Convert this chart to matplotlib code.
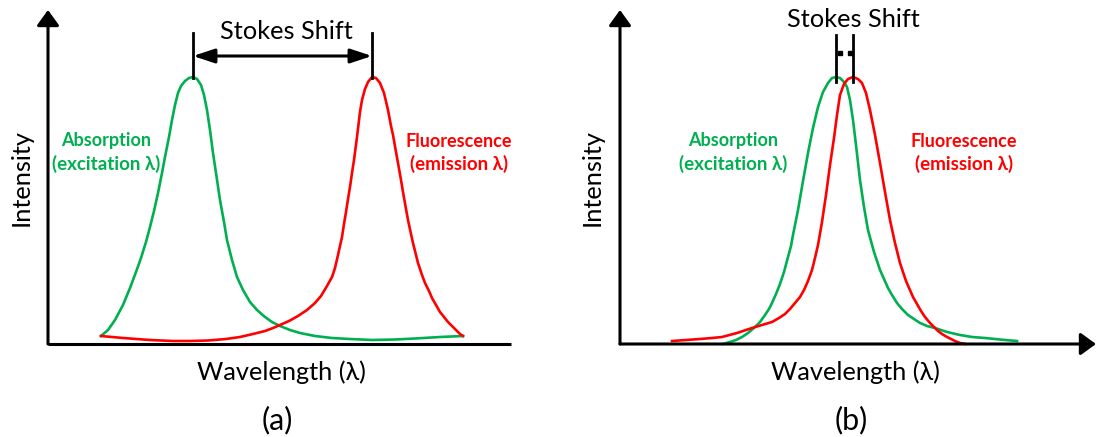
import numpy as np
import matplotlib
matplotlib.use("Agg")
import matplotlib.pyplot as plt

plt.rcParams['font.family'] = ['Lato', 'DejaVu Sans']

# Panel (a): large Stokes shift (wavelength / intensity in arbitrary units)
abs_a_wl = [53, 60, 67, 75, 82, 88, 93, 98, 102, 106, 110, 114, 117, 121, 124, 127, 130, 133,
            137, 141, 145, 149, 153, 156, 159, 162, 165, 168, 172, 176, 179, 184, 189, 195,
            202, 209, 217, 224, 232, 242, 252, 267, 284, 302, 324, 347, 367, 392, 415]
abs_a_int = [8, 14, 24, 39, 56, 72, 86, 102, 117, 133, 151, 171, 187, 207, 224, 239, 251, 258,
             263, 266, 267, 265, 259, 249, 234, 214, 191, 171, 144, 122, 104, 84, 67, 54,
             42, 34, 27, 22, 18, 14, 11, 8, 6, 5, 4, 4.5, 5.5, 7, 8]
fl_a_wl = [53, 75, 102, 125, 142, 160, 178, 192, 205, 217, 225, 232, 241, 250, 259, 267, 273,
           279, 284, 287, 290, 292, 294, 296, 298, 300, 302, 304, 306, 309, 312, 314, 317,
           320, 324, 328, 332, 336, 340, 343, 345, 348, 350, 353, 355, 358, 360, 363, 365,
           368, 370, 374, 377, 381, 384, 388, 392, 396, 400, 404, 408, 412, 415]
fl_a_int = [8, 6, 4, 3, 3, 3.5, 5, 7, 10, 13, 16, 19, 23, 28, 34, 41, 48,
            58, 67, 76, 89, 98, 107, 120, 132, 145, 157, 171, 184, 207, 232, 244, 255,
            262, 267, 266, 261, 251, 234, 218, 209, 192, 181, 164, 152, 135, 124, 110, 101,
            89, 81, 69, 61, 53, 46, 39, 32, 27, 22, 18, 14, 10, 8]

# Panel (b): small Stokes shift
abs_b_wl = [103, 110, 116, 122, 128, 135, 140, 145, 149, 152, 156, 160, 164, 168, 171, 173,
            178, 183, 188, 193, 198, 203, 208, 212, 216, 220, 224, 227, 230, 233, 236, 240,
            244, 248, 254, 260, 268, 272, 277, 282, 288, 294, 300, 307, 315, 327, 340, 352,
            365, 385, 397]
abs_b_int = [0, 2, 4, 7, 11, 17, 22, 29, 35, 41, 50, 60, 72, 87, 98, 109,
             134, 163, 191, 216, 237, 252, 261, 266, 267, 266, 262, 257, 244, 224, 199, 164,
             137, 114, 92, 74, 56, 49, 41, 35, 29, 25, 21, 18, 16, 12, 9, 7,
             6, 4, 3]
fl_b_wl = [52, 66, 80, 92, 102, 117, 132, 142, 152, 159, 165, 170, 175, 180, 184, 188, 192,
           195, 198, 202, 206, 210, 214, 217, 220, 224, 228, 233, 238, 242, 246, 250, 255,
           260, 265, 270, 275, 280, 286, 293, 301, 305, 310, 314, 318, 322, 327, 331, 335,
           340, 345]
fl_b_int = [3, 4, 5, 6, 7, 11, 16, 19, 22, 26, 30, 35, 41, 47, 54, 63, 74,
            86, 99, 122, 149, 179, 206, 229, 249, 260, 265, 267, 265, 261, 251, 234, 209,
            181, 152, 124, 101, 81, 63, 47, 33, 27, 21, 17, 13, 10, 7, 5, 3,
            1, 0]

GREEN = '#00B050'
RED = '#FF0000'
W, H = 1096, 437

fig = plt.figure(figsize=(W / 100, H / 100), dpi=100)


def px_axes(left, right, top, bottom):
    ax = fig.add_axes([left / W, 1 - bottom / H, (right - left) / W, (bottom - top) / H])
    ax.set_xlim(0, right - left)
    ax.set_ylim(0, bottom - top)
    ax.axis('off')
    return ax


def arrow(ax, start, end, style='-|>', hl=9.4, hw=6.8):
    ax.annotate('', xy=end, xytext=start, annotation_clip=False,
                arrowprops=dict(arrowstyle=f'{style},head_length={hl},head_width={hw}',
                                mutation_scale=1, lw=2.2, color='black',
                                shrinkA=0, shrinkB=0))


def draw_panel(ax, abs_wl, abs_int, fl_wl, fl_int, x_arrow):
    xmax = ax.get_xlim()[1]
    ytop = ax.get_ylim()[1]
    ax.plot(abs_wl, abs_int, color=GREEN, lw=1.9, clip_on=False, solid_joinstyle='round')
    ax.plot(fl_wl, fl_int, color=RED, lw=1.9, clip_on=False, solid_joinstyle='round')
    arrow(ax, (0, 0), (0, ytop))
    if x_arrow:
        arrow(ax, (0, 0), (xmax, 0))
    else:
        ax.plot([0, xmax], [0, 0], color='black', lw=2.2, clip_on=False,
                solid_capstyle='butt')


# panel (a)
ax_a = px_axes(48, 511, 10, 344)
draw_panel(ax_a, abs_a_wl, abs_a_int, fl_a_wl, fl_a_int, x_arrow=False)
pk_g = abs_a_wl[int(np.argmax(abs_a_int))]
pk_r = fl_a_wl[int(np.argmax(fl_a_int))]
for xp in (pk_g, pk_r):
    ax_a.plot([xp, xp], [max(abs_a_int) - 1, 311], color='black', lw=2.0, clip_on=False)
arrow(ax_a, (pk_g, 288), (pk_r, 288), style='<|-|>', hl=13, hw=4.3)

# panel (b)
ax_b = px_axes(620, 1096, 10, 344)
draw_panel(ax_b, abs_b_wl, abs_b_int, fl_b_wl, fl_b_int, x_arrow=True)
pk_g = abs_b_wl[int(np.argmax(abs_b_int))]
pk_r = fl_b_wl[int(np.argmax(fl_b_int))]
for xp in (pk_g, pk_r):
    ax_b.plot([xp, xp], [max(abs_b_int) - 5, 309], color='black', lw=2.0, clip_on=False)
ax_b.plot([pk_g + 3.5, pk_r - 3.5], [291, 291], ls='none', marker='s', ms=2.6,
          color='black', clip_on=False)


def ftext(x, y, s, **kw):
    fig.text(x / W, 1 - y / H, s, **kw)


for stokes_x, stokes_y, abs_x, fl_x, int_x, wl_x, tag_x, tag in [
        (286, 39, 106, 459, 21, 281, 277, '(a)'),
        (853, 27, 733, 964, 592, 855, 851, '(b)')]:
    ftext(stokes_x, stokes_y, 'Stokes Shift', ha='center', va='baseline', fontsize=18.3)
    ftext(abs_x, 146, 'Absorption', ha='center', va='baseline', fontsize=13,
          fontweight='bold', color=GREEN)
    ftext(abs_x, 170, '(excitation λ)', ha='center', va='baseline', fontsize=13.5,
          fontweight='bold', color=GREEN)
    ftext(fl_x, 147, 'Fluorescence', ha='center', va='baseline', fontsize=13,
          fontweight='bold', color=RED)
    ftext(fl_x, 170, '(emission λ)', ha='center', va='baseline', fontsize=13.5,
          fontweight='bold', color=RED)
    ftext(int_x, 178, 'Intensity', ha='center', va='center', rotation=90, fontsize=18.3)
    ftext(wl_x, 372, 'Wavelength (λ)', ha='center', va='center', fontsize=18.3)
    ftext(tag_x, 420, tag, ha='center', va='center', fontsize=22)

fig.savefig('out.png', dpi=100)
